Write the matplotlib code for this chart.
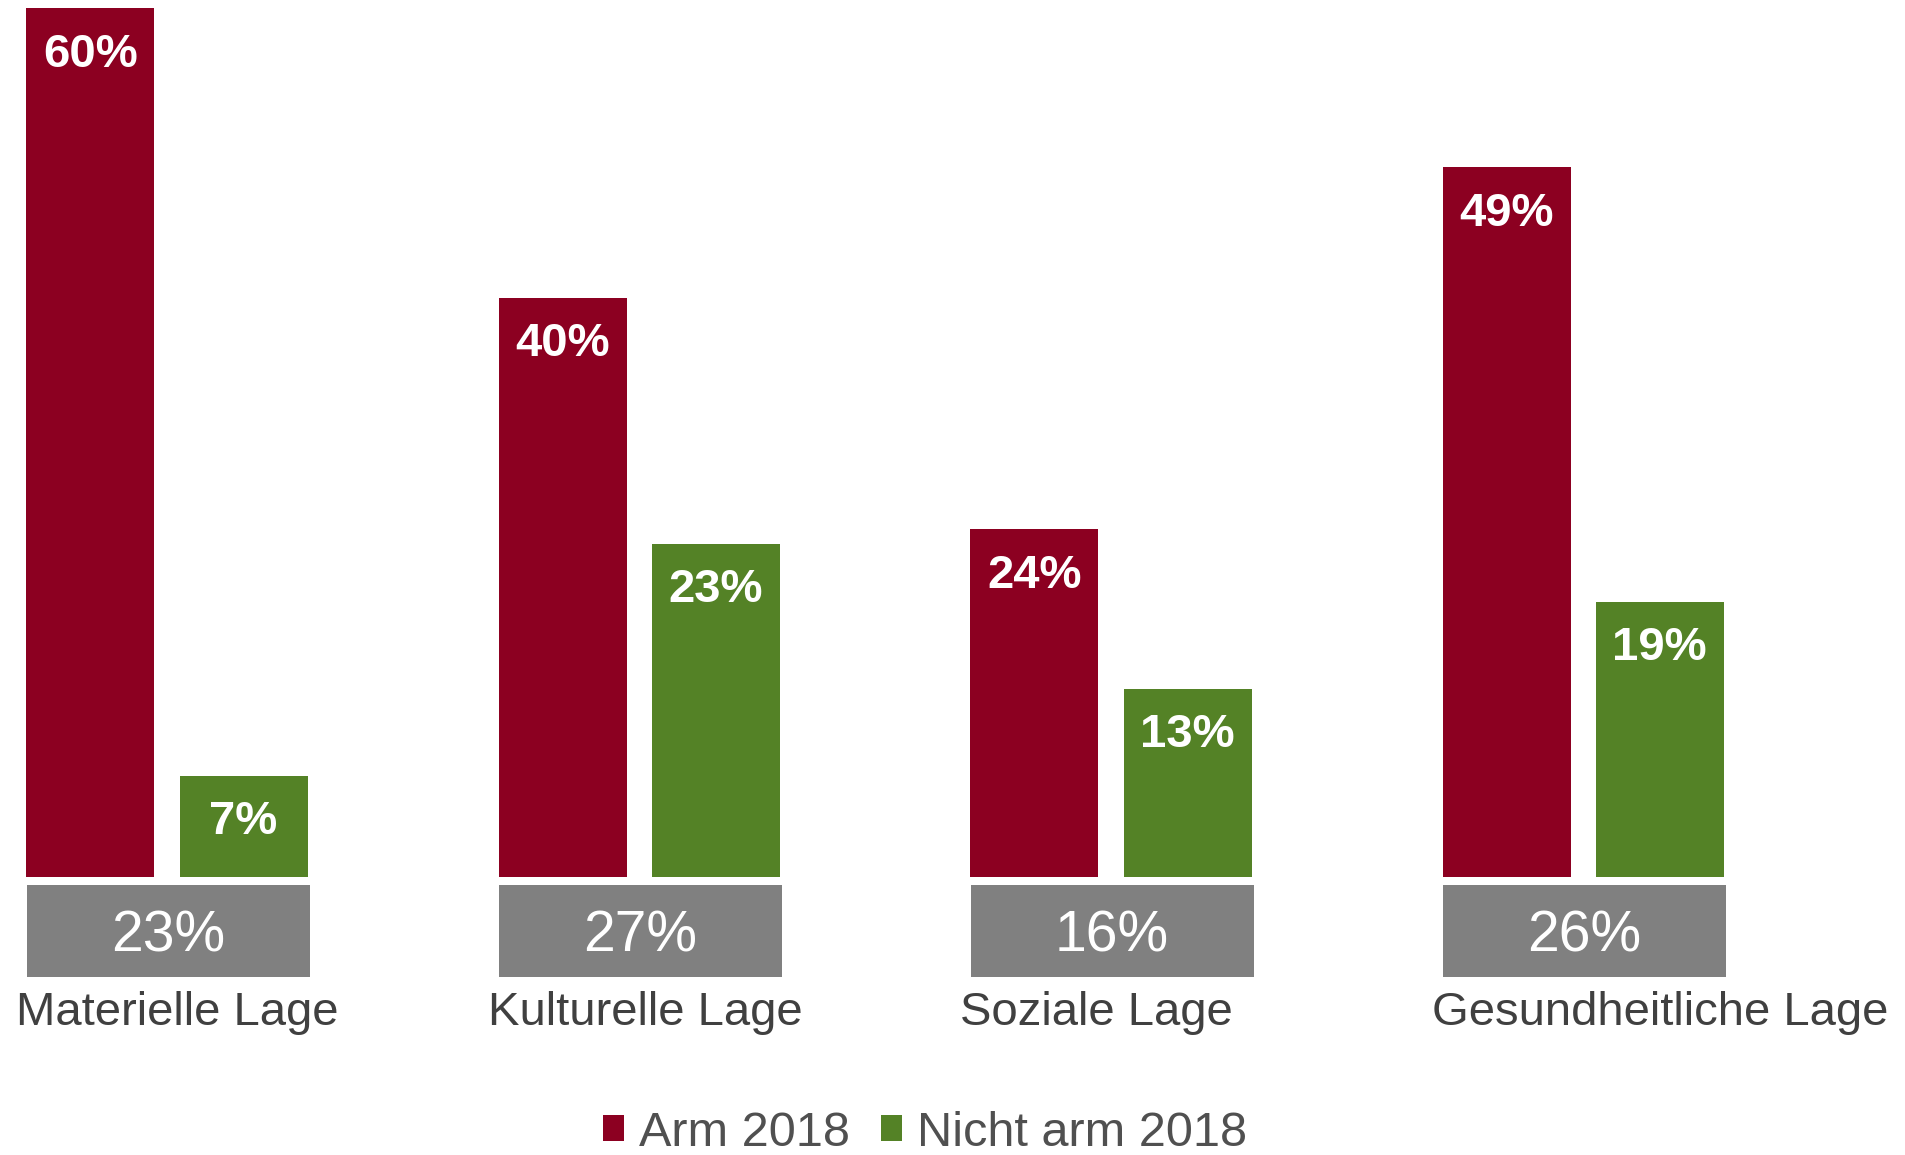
import matplotlib
matplotlib.use("Agg")
import matplotlib.pyplot as plt
import numpy as np

plt.rcParams['font.family'] = ['Liberation Sans', 'DejaVu Sans']

categories = ["Materielle Lage", "Kulturelle Lage", "Soziale Lage", "Gesundheitliche Lage"]
arm_2018 = [60, 40, 24, 49]
nicht_arm_2018 = [7, 23, 13, 19]
gesamt = [23, 27, 16, 26]
series_names = ["Arm 2018", "Nicht arm 2018"]

RED = "#8C0021"
GREEN = "#548226"
GRAY = "#808080"
TEXT = "#404040"

W, H, DPI = 1905, 1155, 100
fig = plt.figure(figsize=(W / DPI, H / DPI), dpi=DPI)
ax = fig.add_axes([0, 0, 1, 1])

# layout in pixels -> data
unit_px = 472.0
x0_px = 167.0
base_px = 877.0
pct_px = 14.48
ax.set_xlim(-x0_px / unit_px, (W - x0_px) / unit_px)
ax.set_ylim(-(H - base_px) / pct_px, base_px / pct_px)
ax.axis("off")

x = np.arange(len(categories))
bw = 128 / unit_px
off = 76.5 / unit_px

b1 = ax.bar(x - off, arm_2018, bw, color=RED, label=series_names[0])
b2 = ax.bar(x + off, nicht_arm_2018, bw, color=GREEN, label=series_names[1])

for bars, vals in ((b1, arm_2018), (b2, nicht_arm_2018)):
    for r, v in zip(bars, vals):
        ax.annotate(f"{v}%", (r.get_x() + r.get_width() / 2, r.get_height()),
                    xytext=(0, -33.5), textcoords="offset points",
                    ha="center", va="center", color="white",
                    fontsize=34, fontweight="bold")

# gray total boxes
box_w = 283 / unit_px
box_top = -8 / pct_px
box_h = 92 / pct_px
ax.bar(x + 1 / unit_px, [box_h] * len(x), box_w, bottom=box_top - box_h, color=GRAY)
for xi, g in zip(x, gesamt):
    ax.text(xi + 1 / unit_px, box_top - box_h / 2 - 6 / pct_px, f"{g}%", ha="center", va="center",
            color="white", fontsize=41)

# category labels
for xi, c in zip(x, categories):
    ax.text(xi - box_w / 2 - 10 / unit_px, -(1025 - base_px) / pct_px, c,
            ha="left", va="baseline", color=TEXT, fontsize=34)

leg = ax.legend(handles=[b1, b2], loc="center", bbox_to_anchor=(925 / W, (H - 1133) / H),
                ncol=2, frameon=False, fontsize=35, handlelength=0.43, handleheight=0.43,
                handletextpad=0.3, columnspacing=0.65, borderpad=0, borderaxespad=0)
for t in leg.get_texts():
    t.set_color("#505050")

fig.savefig("out.png", dpi=DPI)
